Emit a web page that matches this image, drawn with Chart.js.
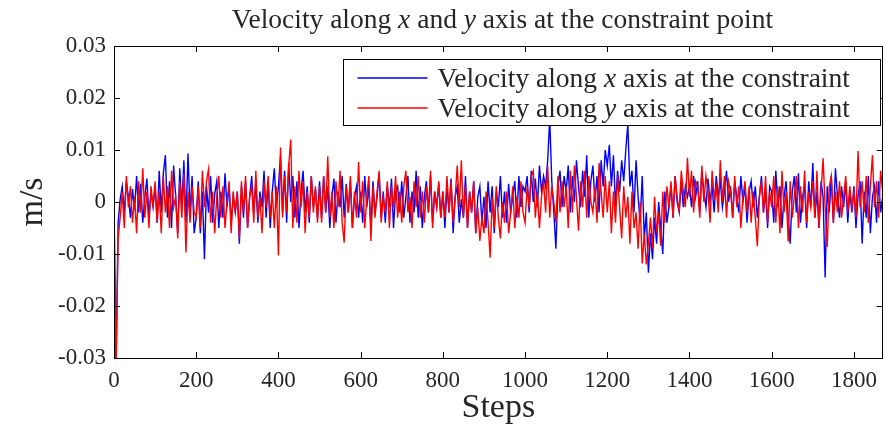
<!DOCTYPE html>
<html>
<head>
<meta charset="utf-8">
<script src="https://cdn.jsdelivr.net/npm/chart.js@4/dist/chart.umd.min.js"></script>
<style>
  html, body { margin: 0; padding: 0; background: #fff; }
</style>
</head>
<body>
<canvas id="chart" width="886" height="425"></canvas>
<script>
// one reading every 5 steps, values in m/s
const sampleEvery = 5;

// velocity along x (blue)
const velX = [
  0,-.032,-.004,.0005,.003,-.002,.004,.001,-.003,.0025,-.0015,.005,-.002,.0035,-.004,.001,.0045,-.003,.002,-.001,
  .003,-.004,.006,-.002,.0055,.009,-.003,.004,-.005,.007,.001,-.006,.0065,-.001,.008,-.004,.0093,-.002,.005,-.006,
  -.003,.004,-.006,.002,-.011,.003,-.002,.005,-.004,.0015,.004,-.005,.002,-.003,.0055,-.001,.003,-.004,.001,-.002,
  .002,-.008,.003,-.003,.004,-.005,.001,.005,-.002,.0035,-.004,.002,-.001,.006,-.003,.004,-.005,.002,.0065,-.001,
  .003,.0088,-.002,.006,-.004,.0075,0,.005,-.003,.004,-.005,.002,.006,-.002,.003,-.004,.005,-.001,.0025,-.003,
  .004,-.003,.005,-.002,.003,-.005,.001,.0045,-.004,.002,-.001,.005,-.003,.0035,-.002,.004,-.005,.001,.003,-.003,
  .002,-.004,.005,-.001,.003,-.005,.004,-.002,.001,.0055,-.003,.002,-.004,.003,-.001,.0045,-.005,.002,.003,-.002,
  .004,-.003,.001,.005,-.004,.002,-.002,.006,-.003,.003,-.005,.001,.004,-.002,.005,-.004,.002,-.001,.0035,-.003,
  .002,-.005,.003,-.002,.0045,-.006,.001,.003,-.004,.0005,-.003,.005,-.005,.002,-.002,.004,-.006,.001,.003,-.004,
  .001,-.005,.004,-.002,.003,-.006,.002,-.001,.005,-.003,.002,-.004,.0035,-.002,.001,.004,-.003,.005,-.001,.003,
  .002,.005,-.002,.006,0,.0045,-.001,.007,.002,.005,.003,.008,.016,.004,-.002,-.009,.003,.006,-.001,.005,
  .002,.007,-.002,.005,0,.008,.003,-.001,.006,.001,.009,-.003,.004,.007,0,.005,-.002,.008,.003,.01,
  .007,.011,.003,.009,-.001,.006,.002,.008,.004,.01,.015,.003,.006,-.002,.008,.001,-.004,.005,-.007,-.002,
  -.0136,-.006,-.011,-.003,-.008,0,-.005,-.01,.002,-.004,-.001,.003,-.003,.005,0,-.002,.004,-.001,.003,.001,
  .003,-.001,.005,.001,.004,-.002,.006,.002,-.001,.0045,0,.003,-.002,.005,.001,.004,-.001,.002,.006,0,
  .003,-.003,.004,.001,-.002,.005,0,.003,-.004,.002,.004,-.001,.003,-.003,.001,.005,-.002,.002,-.005,.003,
  .002,-.004,.006,-.001,.003,-.005,.001,.004,-.003,-.008,.002,.005,-.002,.0055,-.004,.001,.003,-.005,.004,-.001,
  .0075,-.003,.002,-.005,.004,.001,-.0145,.003,-.002,.005,-.004,.0065,.001,-.003,.003,-.001,.004,-.004,.002,-.002,
  .003,-.005,.001,.004,-.008,.002,-.003,.005,-.006,.001,.003,-.004,.004,-.002,.001
];

// velocity along y (red)
const velY = [
  -.002,-.032,-.007,-.003,.002,-.005,.005,-.001,.003,-.004,.001,-.006,.004,-.002,.0065,-.003,.002,-.005,.003,-.001,
  .004,-.004,.002,-.006,.005,-.002,.003,-.005,.006,-.001,.001,-.007,.004,-.003,.0055,-.0097,.002,-.004,.003,-.002,
  -.003,.003,-.005,.006,-.001,.004,.0063,-.004,.002,-.006,.001,.005,-.003,.003,-.005,0,.004,-.006,.002,-.002,
  .002,-.007,.004,-.002,.005,-.005,.001,.003,-.004,.006,-.003,.001,-.006,.004,-.001,.005,-.003,.002,-.005,.003,
  -.0103,.0105,-.003,.005,-.002,.007,.012,-.005,.003,-.004,.006,-.001,.004,-.006,.002,-.003,.005,-.002,.003,-.004,
  .003,-.004,.005,-.002,.0088,-.003,.002,-.005,.004,-.001,.006,-.004,-.0078,.003,-.002,.005,-.005,.002,-.003,.0077,
  -.002,.004,-.005,.001,.005,-.0075,.003,-.003,.002,.006,-.004,.001,-.002,.004,-.005,.003,-.001,.005,-.003,.002,
  -.004,.003,.006,-.002,.001,-.005,.004,-.001,.005,-.003,.002,-.004,.003,-.002,.006,-.005,.002,-.001,.004,-.003,
  .002,-.003,.005,-.002,.004,-.004,.001,.007,-.001,.008,-.003,.003,-.005,.002,-.002,.004,-.006,-.001,-.0075,-.003,
  -.006,.002,-.004,-.0107,.001,-.005,.003,-.003,-.007,0,-.004,.002,-.006,-.002,.003,-.005,.001,-.003,.004,-.002,
  -.004,.003,-.001,.005,.006,-.003,.002,-.005,.001,.004,-.002,.007,-.003,.003,0,-.004,.005,-.002,.004,-.001,
  .003,-.005,.006,-.002,.007,.001,-.0055,.004,-.001,.006,-.003,.005,0,-.002,.003,-.004,.0075,.002,-.003,.005,
  -.002,.004,-.006,.002,-.004,.005,-.001,-.007,.003,-.003,.001,-.008,.002,-.005,-.002,-.009,0,-.0118,-.006,-.012,
  -.008,-.003,-.009,.001,-.006,-.002,-.0084,.002,-.004,.003,-.001,.004,-.003,.005,.001,-.002,.006,.002,-.001,.0085,
  .001,.006,-.002,.004,.003,-.003,.007,0,.005,.002,-.004,.006,.001,.003,-.002,.008,0,.005,-.003,.004,
  .002,-.003,.005,-.001,.003,-.005,.001,.004,-.002,.003,-.004,.002,-.003,-.0085,.001,.004,-.002,.005,-.004,.002,
  -.001,.005,-.004,.003,-.006,.006,-.002,.002,-.0076,.004,-.003,.001,.005,-.005,.003,-.002,.006,-.004,.002,-.001,
  .004,-.003,.006,-.005,.002,.0084,-.001,-.0087,.003,.005,-.004,.002,-.002,.004,-.003,.001,.005,-.002,.003,-.001,
  .002,-.003,.0098,-.001,.004,-.002,.005,-.004,.003,.009,-.001,.004,-.003,.006,.002
];

const steps = velX.map((_, i) => i * sampleEvery);
const xTicks = [0, 200, 400, 600, 800, 1000, 1200, 1400, 1600, 1800];
const xTickLabels = ['0', '200', '400', '600', '800', '1000', '1200', '1400', '1600', '1800'];
const yTicks = [-0.03, -0.02, -0.01, 0, 0.01, 0.02, 0.03];
const yTickLabels = ['-0.03', '-0.02', '-0.01', '0', '0.01', '0.02', '0.03'];
const titleText = 'Velocity along x and y axis at the constraint point';
const seriesNames = ['Velocity along x axis at the constraint', 'Velocity along y axis at the constraint'];
const seriesColors = ['#0000ff', '#ff0000'];

const serif = "'Liberation Serif', 'Times New Roman', serif";
const textColor = '#262626';
const tickLen = 6;
const lineW = 1.4;

// write text where a lone x or y is set in italic (like latex math)
function drawRich(ctx, text, x, y, size, align) {
  const parts = text.split(/( )/);
  const fontOf = p => (p === 'x' || p === 'y' ? 'italic ' : '') + size + 'px ' + serif;
  let total = 0;
  parts.forEach(p => { ctx.font = fontOf(p); total += ctx.measureText(p).width; });
  let cx = align === 'center' ? x - total / 2 : x;
  ctx.textAlign = 'left';
  ctx.textBaseline = 'alphabetic';
  parts.forEach(p => {
    ctx.font = fontOf(p);
    ctx.fillText(p, cx, y);
    cx += ctx.measureText(p).width;
  });
}

const matlabFrame = {
  id: 'matlabFrame',
  afterDatasetsDraw(chart) {
    const { ctx, chartArea: a, scales } = chart;
    ctx.save();
    ctx.strokeStyle = '#000';
    ctx.lineWidth = 1;

    // inward tick marks on all four sides
    ctx.beginPath();
    scales.x.ticks.forEach(t => {
      const px = Math.round(scales.x.getPixelForValue(t.value)) + 0.5;
      ctx.moveTo(px, a.bottom); ctx.lineTo(px, a.bottom - tickLen);
      ctx.moveTo(px, a.top); ctx.lineTo(px, a.top + tickLen);
    });
    scales.y.ticks.forEach(t => {
      const py = Math.round(scales.y.getPixelForValue(t.value)) + 0.5;
      ctx.moveTo(a.left, py); ctx.lineTo(a.left + tickLen, py);
      ctx.moveTo(a.right, py); ctx.lineTo(a.right - tickLen, py);
    });
    ctx.stroke();
    ctx.strokeRect(Math.round(a.left) + 0.5, Math.round(a.top) + 0.5,
      Math.round(a.right - a.left) - 1, Math.round(a.bottom - a.top));

    // legend box, top right inside the axes
    const bx = Math.round(a.left + 229) + 0.5;
    const by = Math.round(a.top + 13) + 0.5;
    const bw = Math.round(a.right - 2 - bx);
    const bh = 66;
    ctx.fillStyle = '#fff';
    ctx.fillRect(bx, by, bw, bh);
    ctx.strokeRect(bx, by, bw, bh);
    seriesNames.forEach((name, i) => {
      const ly = Math.round(by + 18 + i * 30);
      ctx.strokeStyle = seriesColors[i];
      ctx.lineWidth = lineW;
      ctx.beginPath();
      ctx.moveTo(bx + 14, ly); ctx.lineTo(bx + 84, ly);
      ctx.stroke();
      ctx.fillStyle = textColor;
      drawRich(ctx, name, bx + 94, ly + 9, 27.5, 'left');
    });
    ctx.restore();
  },
  afterDraw(chart) {
    const { ctx, chartArea: a } = chart;
    ctx.save();
    ctx.fillStyle = textColor;
    drawRich(ctx, titleText, (a.left + a.right) / 2 + 4, 28, 27.5, 'center');
    ctx.restore();
  }
};

new Chart(document.getElementById('chart'), {
  type: 'line',
  data: {
    datasets: [
      {
        label: seriesNames[0],
        data: velX.map((v, i) => ({ x: steps[i], y: v })),
        borderColor: seriesColors[0],
        borderWidth: lineW,
        pointRadius: 0,
        order: 1
      },
      {
        label: seriesNames[1],
        data: velY.map((v, i) => ({ x: steps[i], y: v })),
        borderColor: seriesColors[1],
        borderWidth: lineW,
        pointRadius: 0,
        order: 0
      }
    ]
  },
  options: {
    responsive: false,
    animation: false,
    devicePixelRatio: 1,
    layout: { padding: { top: 46, right: 2, left: 0, bottom: 0 } },
    plugins: { legend: { display: false }, title: { display: false }, tooltip: { enabled: false } },
    elements: { line: { tension: 0 } },
    scales: {
      x: {
        type: 'linear',
        min: 0,
        max: 1870,
        afterBuildTicks: s => { s.ticks = xTicks.map(v => ({ value: v })); },
        afterFit: s => { s.height = 67; },
        grid: { display: false, drawTicks: false },
        border: { display: false },
        ticks: {
          autoSkip: false, maxRotation: 0, padding: 9,
          font: { family: serif, size: 23 }, color: textColor,
          callback: (v, i) => xTickLabels[i]
        },
        title: {
          display: true, text: 'Steps', color: textColor,
          font: { family: serif, size: 34, lineHeight: 1 },
          padding: { top: 0, bottom: 0 }
        }
      },
      y: {
        min: -0.03,
        max: 0.03,
        afterBuildTicks: s => { s.ticks = yTicks.map(v => ({ value: v })); },
        afterFit: s => { s.width = 114; },
        grid: { display: false, drawTicks: false },
        border: { display: false },
        ticks: {
          padding: 8,
          font: { family: serif, size: 23 }, color: textColor,
          callback: (v, i) => yTickLabels[i]
        },
        title: {
          display: true, text: 'm/s', color: textColor,
          font: { family: serif, size: 34, lineHeight: 1 },
          padding: { top: 16, bottom: 0 }
        }
      }
    }
  },
  plugins: [matlabFrame]
});
</script>
</body>
</html>
